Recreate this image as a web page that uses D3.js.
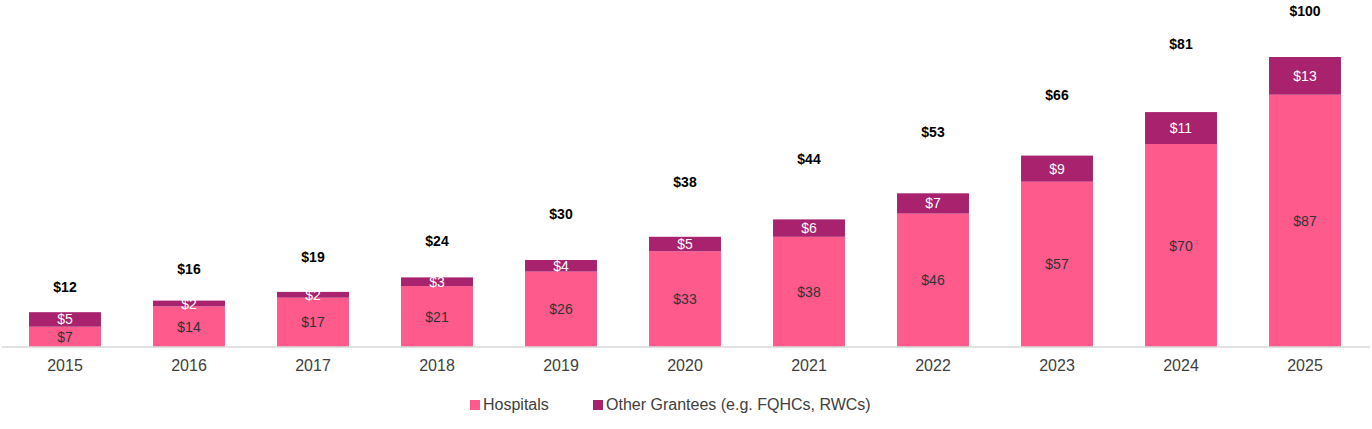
<!DOCTYPE html>
<html><head><meta charset="utf-8">
<script src="https://cdn.jsdelivr.net/npm/d3@7"></script>
<style>body{margin:0;background:#fff}text{font-family:"Liberation Sans",Arial,sans-serif}</style>
</head><body><svg id="c" width="1372" height="429"></svg>
<script>
var years = ["2015","2016","2017","2018","2019","2020","2021","2022","2023","2024","2025"];
var hospitals = [7,14,17,21,26,33,38,46,57,70,87];
var others = [5,2,2,3,4,5,6,7,9,11,13];
var totals = [12,16,19,24,30,38,44,53,66,81,100];
// where the total labels sit, in chart units
var totalLabelPos = [20.7,27,31,36.5,46,57,65,74,87,104.5,116];
var palette = {hosp:"#fe5a8c", other:"#a8226e", axis:"#d9d9d9", text:"#404040"};

var svg = d3.select("#c");
var x = d3.scaleBand().domain(years).range([3,1367]).paddingInner(0.42).paddingOuter(0.21);
var y = d3.scaleLinear().domain([0,100]).range([347,57]);

var g = svg.selectAll("g.bar").data(years).enter().append("g").attr("class","bar");
g.append("rect").attr("x",function(d){return x(d);}).attr("width",x.bandwidth())
  .attr("y",function(d,i){return y(hospitals[i]);})
  .attr("height",function(d,i){return y(0)-y(hospitals[i]);})
  .attr("fill",palette.hosp);
g.append("rect").attr("x",function(d){return x(d);}).attr("width",x.bandwidth())
  .attr("y",function(d,i){return y(hospitals[i]+others[i]);})
  .attr("height",function(d,i){return y(hospitals[i])-y(hospitals[i]+others[i]);})
  .attr("fill",palette.other);
g.append("text").attr("x",function(d){return x(d)+x.bandwidth()/2;})
  .attr("y",function(d,i){return y(hospitals[i]/2)+5;})
  .attr("text-anchor","middle").attr("font-size","14px").attr("fill","#333")
  .text(function(d,i){return "$"+hospitals[i];});
g.append("text").attr("x",function(d){return x(d)+x.bandwidth()/2;})
  .attr("y",function(d,i){return y(hospitals[i]+others[i]/2)+5;})
  .attr("text-anchor","middle").attr("font-size","14px").attr("fill","#fff")
  .text(function(d,i){return "$"+others[i];});
g.append("text").attr("x",function(d){return x(d)+x.bandwidth()/2;})
  .attr("y",function(d,i){return y(totalLabelPos[i])+5;})
  .attr("text-anchor","middle").attr("font-size","14px").attr("font-weight","bold").attr("fill","#000")
  .text(function(d,i){return "$"+totals[i];});

var ax = svg.append("g").attr("transform","translate(0,347)")
  .call(d3.axisBottom(x).tickSize(0).tickPadding(13));
ax.select(".domain").attr("stroke",palette.axis).attr("stroke-width",1.5).attr("d","M2,0H1370");
ax.selectAll("text").attr("font-size","16px").attr("fill",palette.text)
  .style("font-family","'Liberation Sans',Arial,sans-serif");

var legend = [["Hospitals",palette.hosp,470],["Other Grantees (e.g. FQHCs, RWCs)",palette.other,593]];
var lg = svg.selectAll("g.lg").data(legend).enter().append("g");
lg.append("rect").attr("x",function(d){return d[2];}).attr("y",400).attr("width",10).attr("height",10)
  .attr("fill",function(d){return d[1];});
lg.append("text").attr("x",function(d){return d[2]+13;}).attr("y",410).attr("font-size","16px")
  .attr("fill",palette.text).text(function(d){return d[0];});
</script></body></html>
